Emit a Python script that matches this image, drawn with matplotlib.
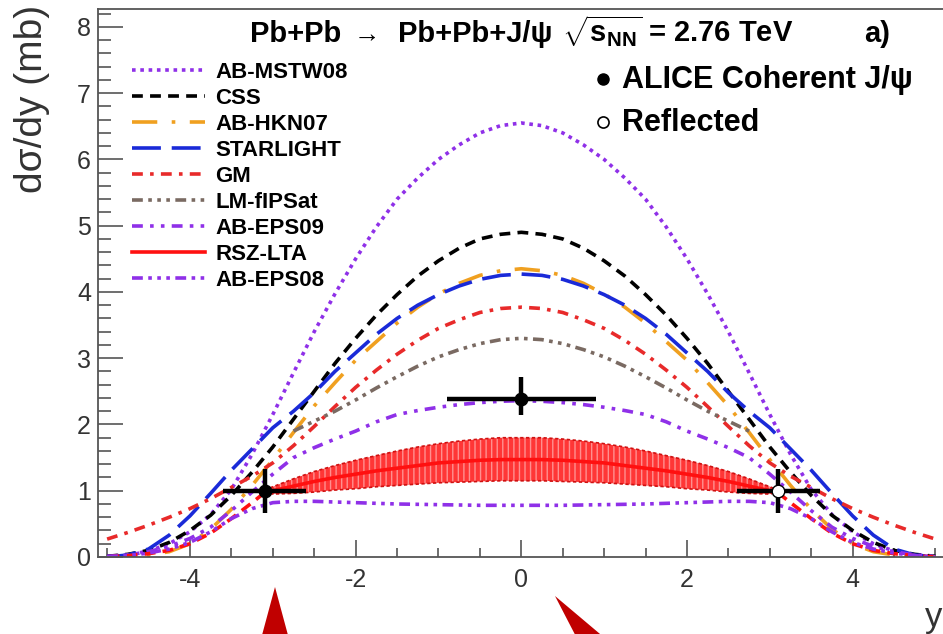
import numpy as np
import matplotlib
matplotlib.use("Agg")
import matplotlib.pyplot as plt
from matplotlib.patches import Polygon
from matplotlib.lines import Line2D

plt.rcParams['font.family'] = ['Liberation Sans', 'DejaVu Sans']
plt.rcParams['mathtext.fontset'] = 'custom'
plt.rcParams['mathtext.rm'] = 'Liberation Sans'
plt.rcParams['mathtext.bf'] = 'Liberation Sans:bold'
plt.rcParams['axes.unicode_minus'] = False

# rapidity grid, |y| from 0 to 5 (curves are symmetric in y)
y_half = np.arange(0, 5.01, 0.25)

ab_mstw08 = [6.55, 6.51, 6.40, 6.22, 6.00, 5.72, 5.40, 4.98, 4.50, 3.97, 3.40,
             2.78, 2.15, 1.55, 1.02, 0.64, 0.38, 0.20, 0.09, 0.03, 0.01]
css = [4.90, 4.87, 4.80, 4.66, 4.47, 4.24, 3.96, 3.65, 3.30, 2.92, 2.50,
       2.08, 1.66, 1.28, 0.93, 0.63, 0.40, 0.22, 0.10, 0.04, 0.01]
ab_hkn07 = [4.35, 4.32, 4.25, 4.13, 3.97, 3.77, 3.53, 3.25, 2.97, 2.63, 2.28,
            1.88, 1.47, 1.08, 0.72, 0.42, 0.20, 0.08, 0.03, 0.01, 0.00]
starlight = [4.27, 4.25, 4.19, 4.09, 3.96, 3.80, 3.60, 3.36, 3.08, 2.80, 2.48,
             2.20, 1.95, 1.63, 1.31, 0.96, 0.62, 0.33, 0.12, 0.03, 0.00]
gm = [3.77, 3.75, 3.69, 3.58, 3.45, 3.27, 3.06, 2.82, 2.56, 2.27, 1.97,
      1.68, 1.42, 1.22, 1.05, 0.88, 0.73, 0.60, 0.48, 0.37, 0.27]
lm_fipsat = [3.30, 3.28, 3.22, 3.13, 3.02, 2.88, 2.72, 2.55, 2.37, 2.20, 2.05, 1.90]
ab_eps09 = [2.36, 2.35, 2.33, 2.30, 2.26, 2.21, 2.15, 2.04, 1.90, 1.78, 1.65,
            1.50, 1.25, 0.98, 0.70, 0.45, 0.28, 0.16, 0.08, 0.03, 0.01]
ab_eps08 = [0.78, 0.78, 0.78, 0.785, 0.79, 0.795, 0.80, 0.81, 0.82, 0.83, 0.84,
            0.84, 0.82, 0.73, 0.58, 0.38, 0.22, 0.12, 0.06, 0.02, 0.00]

# RSZ-LTA: band up to |y| = 3, dashed tail beyond
rsz_y = [0, 0.25, 0.5, 0.75, 1.0, 1.25, 1.5, 1.75, 2.0, 2.25, 2.5, 2.75, 3.0, 3.1]
rsz_hi = [1.80, 1.80, 1.78, 1.75, 1.71, 1.66, 1.60, 1.53, 1.46, 1.38, 1.29, 1.18, 1.06, 1.01]
rsz_lo = [1.15, 1.15, 1.14, 1.13, 1.12, 1.10, 1.08, 1.06, 1.03, 1.01, 0.98, 0.96, 0.95, 0.98]
rsz_mid = [1.47, 1.47, 1.46, 1.44, 1.42, 1.38, 1.34, 1.30, 1.25, 1.20, 1.14, 1.07, 1.00, 0.99]
rsz_tail_y = [3.1, 3.25, 3.5, 3.75, 4.0, 4.25, 4.5, 4.75, 5.0]
rsz_tail = [0.97, 0.82, 0.58, 0.36, 0.20, 0.10, 0.05, 0.02, 0.0]

# ALICE points
alice_y = [0.0, -3.1]
alice_v = [2.38, 1.00]
alice_xerr = [0.9, 0.5]
alice_err_lo = [0.24, 0.33]
alice_err_hi = [0.34, 0.33]
refl_y = [3.1]
refl_v = [1.00]


def sym(xs, vs):
    xs = np.asarray(xs, dtype=float)
    vs = np.asarray(vs, dtype=float)
    return np.concatenate([-xs[::-1], xs[1:]]), np.concatenate([vs[::-1], vs[1:]])


fig = plt.figure(figsize=(9.43, 6.34), dpi=100)
ax = fig.add_axes([98 / 943, 77 / 634, 846.6 / 943, 548 / 634])

purple = '#8f30e8'
lw = 2.6

curves = [
    ('AB-MSTW08', y_half, ab_mstw08, purple, (0, (1.0, 1.3))),
    ('CSS', y_half, css, 'black', (0, (3, 2))),
    ('AB-HKN07', y_half[:len(ab_hkn07)], ab_hkn07, '#f0a020', (0, (7, 4, 1, 4))),
    ('STARLIGHT', y_half, starlight, '#1a2ad8', (0, (8, 3))),
    ('GM', y_half, gm, '#e82a2a', (0, (3, 2, 1, 2))),
    ('LM-fIPSat', y_half[:len(lm_fipsat)], lm_fipsat, '#7a6a62', (0, (3, 1.5, 1, 1.5, 1, 1.5, 1, 1.5))),
    ('AB-EPS09', y_half, ab_eps09, purple, (0, (3, 2, 1, 2, 1, 2))),
]

handles = {}
for name, xs, vs, col, ls in curves:
    xx, vv = sym(xs, vs)
    h, = ax.plot(xx, vv, color=col, lw=lw, ls=ls, label=name)
    handles[name] = h

# RSZ-LTA band
bx, bhi = sym(rsz_y, rsz_hi)
_, blo = sym(rsz_y, rsz_lo)
_, bmid = sym(rsz_y, rsz_mid)
ax.fill_between(bx, blo, bhi, facecolor='#ff2020', edgecolor='#ff9a9a', hatch='|||', lw=0, alpha=0.9)
ax.plot(bx, bhi, color='#d01010', lw=1.2, ls=(0, (2, 1.5)))
ax.plot(bx, blo, color='#d01010', lw=1.2, ls=(0, (2, 1.5)))
h, = ax.plot(bx, bmid, color='#ff1010', lw=lw, label='RSZ-LTA')
handles['RSZ-LTA'] = h
tx = np.asarray(rsz_tail_y)
tv = np.asarray(rsz_tail)
ax.plot(tx, tv, color='#ff1010', lw=lw, ls=(0, (3, 2)))
ax.plot(-tx, tv, color='#ff1010', lw=lw, ls=(0, (3, 2)))

xx, vv = sym(y_half, ab_eps08)
h, = ax.plot(xx, vv, color=purple, lw=lw, ls=(0, (3, 1.5, 1, 1.5, 1, 1.5, 1, 1.5)), label='AB-EPS08')
handles['AB-EPS08'] = h

# ALICE data
ax.errorbar(alice_y, alice_v, xerr=alice_xerr, yerr=[alice_err_lo, alice_err_hi],
            fmt='o', color='black', ms=9, elinewidth=3.2, capsize=0, zorder=10)
ax.errorbar(refl_y, refl_v, xerr=[0.5], yerr=[0.33], fmt='o', color='black',
            mfc='white', mec='black', ms=9, elinewidth=3.2, capsize=0, zorder=10)

ax.set_xlim(-5.11, 5.11)
ax.set_ylim(0, 8.27)
ax.set_xticks([-4, -2, 0, 2, 4])
ax.set_xticks(np.arange(-5, 5.01, 0.5), minor=True)
ax.set_yticks(np.arange(0, 9, 1))
ax.set_yticks(np.arange(0, 8.21, 0.2), minor=True)
ax.tick_params(which='both', direction='in', color='#555555', labelcolor='#333333', labelsize=18)
ax.tick_params(axis='y', which='major', length=18, width=1.2, pad=5)
ax.tick_params(axis='y', which='minor', length=9, width=1.2)
ax.tick_params(axis='x', which='major', length=12, width=1.2, pad=8)
ax.tick_params(axis='x', which='minor', length=6.5, width=1.2)
ax.spines['right'].set_visible(False)
for s in ['left', 'bottom', 'top']:
    ax.spines[s].set_color('#555555')
    ax.spines[s].set_linewidth(1.3)

order = ['AB-MSTW08', 'CSS', 'AB-HKN07', 'STARLIGHT', 'GM', 'LM-fIPSat', 'AB-EPS09', 'RSZ-LTA', 'AB-EPS08']
leg = ax.legend([handles[k] for k in order], order, loc='upper left',
                bbox_to_anchor=(0.040, 0.903), frameon=False,
                handlelength=3.3, handletextpad=0.45, labelspacing=0.225,
                borderpad=0, borderaxespad=0, prop={'weight': 'bold', 'size': 16})

# header and data legend
fig.text(250 / 943, 1 - 42 / 634, 'Pb+Pb', fontsize=21, weight='bold', va='baseline')
fig.text(367 / 943, 1 - 42 / 634, '\u2192', fontsize=19, ha='center', va='baseline')
fig.text(552 / 943, 1 - 42 / 634, 'Pb+Pb+J/\u03c8', fontsize=21, weight='bold',
         ha='right', va='baseline')
fig.text(562 / 943, 1 - 42 / 634, r'$\sqrt{\mathbf{s_{NN}}}$ = 2.76 TeV', fontsize=21, weight='bold',
         va='baseline')
fig.text(864 / 943, 1 - 42 / 634, 'a)', fontsize=21, weight='bold', va='baseline')
fig.add_artist(Line2D([603 / 943], [1 - 79 / 634], transform=fig.transFigure, marker='o',
                      ms=8, color='black', ls='none'))
fig.add_artist(Line2D([603 / 943], [1 - 122 / 634], transform=fig.transFigure, marker='o',
                      ms=8, mfc='white', mec='black', mew=1.2, ls='none'))
fig.text(622 / 943, 1 - 88 / 634, 'ALICE Coherent J/\u03c8', fontsize=22, weight='bold', va='baseline')
fig.text(622 / 943, 1 - 131 / 634, 'Reflected', fontsize=22, weight='bold', va='baseline')

fig.text(32 / 943, 1 - 5 / 634, 'd\u03c3/dy (mb)', fontsize=28, rotation=90, ha='center', va='top',
         color='#333333')
fig.text(925 / 943, 1 - 627 / 634, 'y', fontsize=25, va='baseline', color='#333333')

# red arrows at the bottom
def px(x, y):
    return (x / 943, 1 - y / 634)

red = '#c00000'
fig.patches.append(Polygon([px(275, 587), px(258, 650), px(292, 650)], closed=True,
                           transform=fig.transFigure, facecolor=red, edgecolor='none'))
fig.patches.append(Polygon([px(555, 596), px(583, 650), px(619, 650)], closed=True,
                           transform=fig.transFigure, facecolor=red, edgecolor='none'))

fig.savefig('out.png', dpi=100)
